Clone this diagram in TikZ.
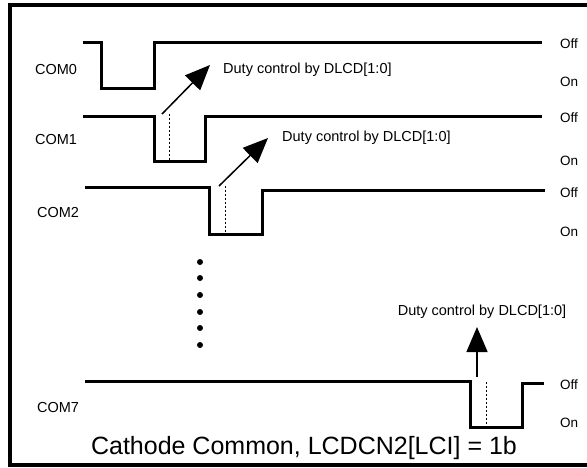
\documentclass[tikz,border=0pt]{standalone}
\usepackage{fontspec}
\setmainfont{Liberation Sans}
\usetikzlibrary{arrows.meta}
\tikzset{
  wave/.style={line width=3pt, line join=miter},
  frameline/.style={line width=4pt},
  duty/.style={line width=1.5pt, -{Triangle[length=25pt,width=21pt]}},
  dotline/.style={line width=1pt, dash pattern=on 2pt off 2pt},
  comlbl/.style={inner sep=0pt, font=\fontsize{14.5}{17}\selectfont},
  dutylbl/.style={inner sep=0pt, font=\fontsize{14.5}{17}\selectfont},
  statelbl/.style={inner sep=0pt, anchor=west, font=\fontsize{13.5}{16}\selectfont},
  titlelbl/.style={inner sep=0pt, font=\fontsize{25}{29}\selectfont},
  dot/.style={circle, fill=black, inner sep=0pt, minimum size=6pt}
}
\begin{document}
\begin{tikzpicture}[x=1pt,y=-1pt]
\useasboundingbox (0,0) rectangle (587,467);
\fill[white] (0,0) rectangle (587,467);
% frame
\draw[frameline] (587,5) -- (10,5) -- (10,465) -- (587,465);
% waveforms
\draw[wave] (83,42) -- (101,42) -- (101,88) -- (154,88) -- (154,42) -- (542,42);
\draw[wave] (83,116) -- (154,116) -- (154,161) -- (205,161) -- (205,116) -- (542,116);
\draw[wave] (85,187) -- (209,187) -- (209,234) -- (262,234) -- (262,190) -- (545,190);
\draw[wave] (85,381) -- (470,381) -- (470,427) -- (522,427) -- (522,383) -- (544,383);
% dotted markers
\draw[dotline] (169,114) -- (169,161);
\draw[dotline] (225,186) -- (225,234);
\draw[dotline] (486,382) -- (486,427);
% arrows
\coordinate (a1s) at (162,114);
\coordinate (a1e) at (210,65);
\coordinate (a2s) at (219,186);
\coordinate (a2e) at (268,138);
\coordinate (a3s) at (477,377);
\coordinate (a3e) at (477,327);
\draw[duty] (a1s) -- (a1e);
\draw[duty] (a2s) -- (a2e);
\draw[duty] (a3s) -- (a3e);
% labels
\node[comlbl] (c0) at (56,70) {COM0};
\node[comlbl] (c1) at (56,140) {COM1};
\node[comlbl] (c2) at (58,213) {COM2};
\node[comlbl] (c7) at (58,407) {COM7};
\node[dutylbl, anchor=west] (d1) at (223,70) {Duty control by DLCD[1:0]};
\node[dutylbl, anchor=west] (d2) at (282,138) {Duty control by DLCD[1:0]};
\node[dutylbl] (d3) at (482,312) {Duty control by DLCD[1:0]};
\node[statelbl] (off0) at (560,44) {Off};
\node[statelbl] (on0) at (560,82) {On};
\node[statelbl] (off1) at (560,118) {Off};
\node[statelbl] (on1) at (560,161) {On};
\node[statelbl] (off2) at (560,193) {Off};
\node[statelbl] (on2) at (560,232) {On};
\node[statelbl] (off7) at (560,385) {Off};
\node[statelbl] (on7) at (560,423) {On};
\node[titlelbl] (title) at (304,448) {Cathode Common, LCDCN2[LCI] = 1b};
% dots
\foreach \yy [count=\i] in {262,278,295,312,328,345}
  \node[dot] (v\i) at (200,\yy) {};
\end{tikzpicture}
\end{document}
